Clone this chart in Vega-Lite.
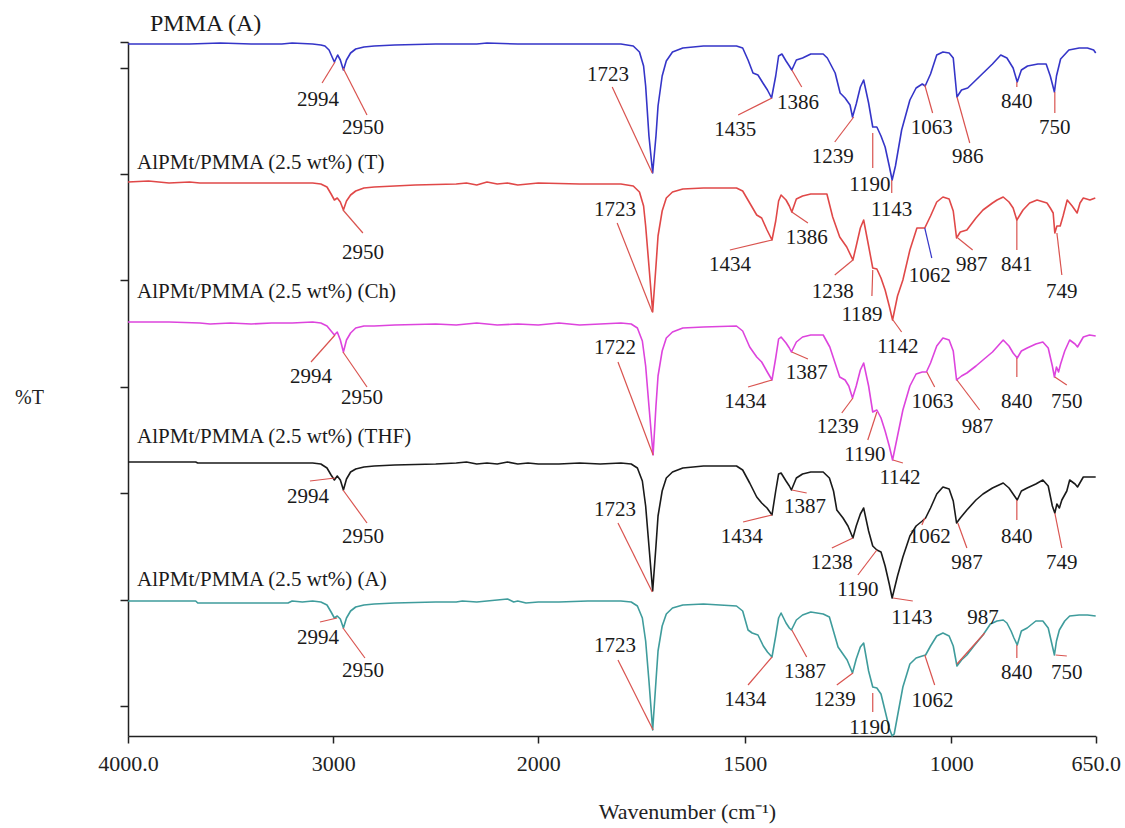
{
  "$schema": "https://vega.github.io/schema/vega-lite/v6.json",
  "autosize": {"type": "none"},
  "padding": {"left": 128, "top": 42, "right": 29, "bottom": 92},
  "width": 968,
  "height": 694,
  "background": "white",
  "config": {"view": {"stroke": null}, "font": "Liberation Serif"},
  "datasets": {
    "spectra": [
      {"s":"PMMA","wn":4000,"T":692},{"s":"PMMA","wn":3850,"T":692},{"s":"PMMA","wn":3700,"T":692},{"s":"PMMA","wn":3550,"T":693},{"s":"PMMA","wn":3400,"T":692},{"s":"PMMA","wn":3250,"T":692},{"s":"PMMA","wn":3200,"T":693},{"s":"PMMA","wn":3100,"T":692},{"s":"PMMA","wn":3060,"T":691},{"s":"PMMA","wn":3040,"T":690},{"s":"PMMA","wn":3020,"T":686},{"s":"PMMA","wn":3005,"T":679},{"s":"PMMA","wn":2994,"T":674},{"s":"PMMA","wn":2978,"T":681},{"s":"PMMA","wn":2965,"T":676},{"s":"PMMA","wn":2950,"T":666},{"s":"PMMA","wn":2935,"T":676},{"s":"PMMA","wn":2915,"T":683},{"s":"PMMA","wn":2890,"T":687},{"s":"PMMA","wn":2850,"T":689},{"s":"PMMA","wn":2800,"T":690},{"s":"PMMA","wn":2700,"T":691},{"s":"PMMA","wn":2500,"T":692},{"s":"PMMA","wn":2300,"T":692},{"s":"PMMA","wn":2250,"T":693},{"s":"PMMA","wn":2100,"T":692},{"s":"PMMA","wn":2000,"T":692},{"s":"PMMA","wn":1900,"T":692},{"s":"PMMA","wn":1800,"T":692},{"s":"PMMA","wn":1770,"T":690},{"s":"PMMA","wn":1755,"T":684},{"s":"PMMA","wn":1745,"T":670},{"s":"PMMA","wn":1740,"T":650},{"s":"PMMA","wn":1732,"T":600},{"s":"PMMA","wn":1723,"T":563},{"s":"PMMA","wn":1715,"T":600},{"s":"PMMA","wn":1710,"T":630},{"s":"PMMA","wn":1700,"T":660},{"s":"PMMA","wn":1690,"T":675},{"s":"PMMA","wn":1675,"T":684},{"s":"PMMA","wn":1650,"T":688},{"s":"PMMA","wn":1600,"T":690},{"s":"PMMA","wn":1550,"T":690},{"s":"PMMA","wn":1520,"T":690},{"s":"PMMA","wn":1505,"T":688},{"s":"PMMA","wn":1492,"T":676},{"s":"PMMA","wn":1480,"T":663},{"s":"PMMA","wn":1468,"T":661},{"s":"PMMA","wn":1456,"T":653},{"s":"PMMA","wn":1445,"T":646},{"s":"PMMA","wn":1435,"T":638},{"s":"PMMA","wn":1425,"T":660},{"s":"PMMA","wn":1418,"T":680},{"s":"PMMA","wn":1410,"T":682},{"s":"PMMA","wn":1400,"T":675},{"s":"PMMA","wn":1392,"T":670},{"s":"PMMA","wn":1386,"T":666},{"s":"PMMA","wn":1375,"T":676},{"s":"PMMA","wn":1360,"T":678},{"s":"PMMA","wn":1340,"T":682},{"s":"PMMA","wn":1310,"T":682},{"s":"PMMA","wn":1300,"T":678},{"s":"PMMA","wn":1281,"T":663},{"s":"PMMA","wn":1269,"T":643},{"s":"PMMA","wn":1257,"T":638},{"s":"PMMA","wn":1245,"T":631},{"s":"PMMA","wn":1239,"T":619},{"s":"PMMA","wn":1230,"T":632},{"s":"PMMA","wn":1220,"T":649},{"s":"PMMA","wn":1212,"T":656},{"s":"PMMA","wn":1200,"T":633},{"s":"PMMA","wn":1190,"T":609},{"s":"PMMA","wn":1180,"T":609},{"s":"PMMA","wn":1170,"T":600},{"s":"PMMA","wn":1160,"T":589},{"s":"PMMA","wn":1150,"T":570},{"s":"PMMA","wn":1143,"T":556},{"s":"PMMA","wn":1135,"T":570},{"s":"PMMA","wn":1120,"T":606},{"s":"PMMA","wn":1100,"T":636},{"s":"PMMA","wn":1085,"T":648},{"s":"PMMA","wn":1070,"T":652},{"s":"PMMA","wn":1063,"T":650},{"s":"PMMA","wn":1050,"T":662},{"s":"PMMA","wn":1035,"T":681},{"s":"PMMA","wn":1020,"T":684},{"s":"PMMA","wn":1005,"T":683},{"s":"PMMA","wn":995,"T":678},{"s":"PMMA","wn":986,"T":639},{"s":"PMMA","wn":975,"T":646},{"s":"PMMA","wn":960,"T":648},{"s":"PMMA","wn":930,"T":660},{"s":"PMMA","wn":900,"T":672},{"s":"PMMA","wn":880,"T":681},{"s":"PMMA","wn":865,"T":678},{"s":"PMMA","wn":850,"T":668},{"s":"PMMA","wn":840,"T":654},{"s":"PMMA","wn":830,"T":666},{"s":"PMMA","wn":815,"T":670},{"s":"PMMA","wn":790,"T":672},{"s":"PMMA","wn":770,"T":672},{"s":"PMMA","wn":760,"T":660},{"s":"PMMA","wn":750,"T":644},{"s":"PMMA","wn":745,"T":660},{"s":"PMMA","wn":735,"T":677},{"s":"PMMA","wn":715,"T":686},{"s":"PMMA","wn":690,"T":688},{"s":"PMMA","wn":670,"T":688},{"s":"PMMA","wn":655,"T":686},{"s":"PMMA","wn":650,"T":683},

      {"s":"T","wn":4000,"T":554},{"s":"T","wn":3900,"T":555},{"s":"T","wn":3800,"T":553},{"s":"T","wn":3700,"T":554},{"s":"T","wn":3650,"T":553},{"s":"T","wn":3400,"T":553},{"s":"T","wn":3100,"T":553},{"s":"T","wn":3060,"T":552},{"s":"T","wn":3030,"T":549},{"s":"T","wn":3010,"T":542},{"s":"T","wn":2994,"T":536},{"s":"T","wn":2980,"T":538},{"s":"T","wn":2965,"T":534},{"s":"T","wn":2950,"T":526},{"s":"T","wn":2935,"T":535},{"s":"T","wn":2915,"T":541},{"s":"T","wn":2890,"T":545},{"s":"T","wn":2850,"T":548},{"s":"T","wn":2800,"T":549},{"s":"T","wn":2700,"T":550},{"s":"T","wn":2600,"T":551},{"s":"T","wn":2400,"T":552},{"s":"T","wn":2350,"T":553},{"s":"T","wn":2300,"T":551},{"s":"T","wn":2250,"T":554},{"s":"T","wn":2200,"T":552},{"s":"T","wn":2150,"T":553},{"s":"T","wn":2100,"T":551},{"s":"T","wn":2050,"T":552},{"s":"T","wn":2000,"T":553},{"s":"T","wn":1900,"T":552},{"s":"T","wn":1800,"T":552},{"s":"T","wn":1770,"T":550},{"s":"T","wn":1755,"T":544},{"s":"T","wn":1745,"T":530},{"s":"T","wn":1740,"T":510},{"s":"T","wn":1732,"T":470},{"s":"T","wn":1723,"T":424},{"s":"T","wn":1715,"T":470},{"s":"T","wn":1710,"T":500},{"s":"T","wn":1700,"T":525},{"s":"T","wn":1690,"T":538},{"s":"T","wn":1675,"T":544},{"s":"T","wn":1650,"T":547},{"s":"T","wn":1600,"T":548},{"s":"T","wn":1520,"T":548},{"s":"T","wn":1505,"T":545},{"s":"T","wn":1488,"T":533},{"s":"T","wn":1471,"T":521},{"s":"T","wn":1459,"T":518},{"s":"T","wn":1446,"T":506},{"s":"T","wn":1434,"T":496},{"s":"T","wn":1425,"T":515},{"s":"T","wn":1418,"T":535},{"s":"T","wn":1412,"T":541},{"s":"T","wn":1400,"T":536},{"s":"T","wn":1392,"T":530},{"s":"T","wn":1386,"T":524},{"s":"T","wn":1375,"T":537},{"s":"T","wn":1360,"T":540},{"s":"T","wn":1340,"T":542},{"s":"T","wn":1301,"T":542},{"s":"T","wn":1287,"T":519},{"s":"T","wn":1270,"T":499},{"s":"T","wn":1253,"T":489},{"s":"T","wn":1238,"T":476},{"s":"T","wn":1230,"T":490},{"s":"T","wn":1220,"T":508},{"s":"T","wn":1212,"T":516},{"s":"T","wn":1200,"T":490},{"s":"T","wn":1190,"T":468},{"s":"T","wn":1180,"T":467},{"s":"T","wn":1170,"T":458},{"s":"T","wn":1160,"T":446},{"s":"T","wn":1150,"T":430},{"s":"T","wn":1142,"T":416},{"s":"T","wn":1130,"T":440},{"s":"T","wn":1117,"T":456},{"s":"T","wn":1100,"T":486},{"s":"T","wn":1083,"T":508},{"s":"T","wn":1064,"T":508},{"s":"T","wn":1050,"T":520},{"s":"T","wn":1035,"T":534},{"s":"T","wn":1020,"T":539},{"s":"T","wn":1005,"T":537},{"s":"T","wn":995,"T":525},{"s":"T","wn":987,"T":498},{"s":"T","wn":978,"T":504},{"s":"T","wn":962,"T":506},{"s":"T","wn":940,"T":518},{"s":"T","wn":923,"T":526},{"s":"T","wn":900,"T":533},{"s":"T","wn":889,"T":536},{"s":"T","wn":874,"T":539},{"s":"T","wn":860,"T":534},{"s":"T","wn":850,"T":528},{"s":"T","wn":841,"T":516},{"s":"T","wn":832,"T":522},{"s":"T","wn":826,"T":526},{"s":"T","wn":810,"T":533},{"s":"T","wn":792,"T":536},{"s":"T","wn":768,"T":533},{"s":"T","wn":760,"T":528},{"s":"T","wn":753,"T":523},{"s":"T","wn":749,"T":503},{"s":"T","wn":744,"T":510},{"s":"T","wn":736,"T":510},{"s":"T","wn":729,"T":520},{"s":"T","wn":719,"T":536},{"s":"T","wn":707,"T":530},{"s":"T","wn":695,"T":523},{"s":"T","wn":688,"T":533},{"s":"T","wn":680,"T":538},{"s":"T","wn":664,"T":536},{"s":"T","wn":651,"T":538},

      {"s":"Ch","wn":4000,"T":414},{"s":"Ch","wn":3800,"T":414},{"s":"Ch","wn":3650,"T":413},{"s":"Ch","wn":3600,"T":412},{"s":"Ch","wn":3500,"T":413},{"s":"Ch","wn":3400,"T":412},{"s":"Ch","wn":3300,"T":413},{"s":"Ch","wn":3200,"T":413},{"s":"Ch","wn":3100,"T":414},{"s":"Ch","wn":3060,"T":413},{"s":"Ch","wn":3030,"T":410},{"s":"Ch","wn":3010,"T":405},{"s":"Ch","wn":2994,"T":401},{"s":"Ch","wn":2980,"T":404},{"s":"Ch","wn":2965,"T":396},{"s":"Ch","wn":2950,"T":384},{"s":"Ch","wn":2935,"T":396},{"s":"Ch","wn":2915,"T":403},{"s":"Ch","wn":2890,"T":408},{"s":"Ch","wn":2850,"T":410},{"s":"Ch","wn":2800,"T":410},{"s":"Ch","wn":2700,"T":411},{"s":"Ch","wn":2500,"T":412},{"s":"Ch","wn":2400,"T":411},{"s":"Ch","wn":2300,"T":413},{"s":"Ch","wn":2200,"T":411},{"s":"Ch","wn":2100,"T":412},{"s":"Ch","wn":2000,"T":411},{"s":"Ch","wn":1950,"T":413},{"s":"Ch","wn":1900,"T":411},{"s":"Ch","wn":1850,"T":412},{"s":"Ch","wn":1800,"T":413},{"s":"Ch","wn":1775,"T":412},{"s":"Ch","wn":1760,"T":408},{"s":"Ch","wn":1748,"T":395},{"s":"Ch","wn":1740,"T":370},{"s":"Ch","wn":1732,"T":330},{"s":"Ch","wn":1722,"T":281},{"s":"Ch","wn":1715,"T":330},{"s":"Ch","wn":1710,"T":360},{"s":"Ch","wn":1700,"T":385},{"s":"Ch","wn":1690,"T":398},{"s":"Ch","wn":1675,"T":404},{"s":"Ch","wn":1650,"T":408},{"s":"Ch","wn":1600,"T":409},{"s":"Ch","wn":1520,"T":410},{"s":"Ch","wn":1505,"T":405},{"s":"Ch","wn":1488,"T":389},{"s":"Ch","wn":1471,"T":379},{"s":"Ch","wn":1459,"T":374},{"s":"Ch","wn":1444,"T":363},{"s":"Ch","wn":1434,"T":356},{"s":"Ch","wn":1425,"T":378},{"s":"Ch","wn":1418,"T":397},{"s":"Ch","wn":1412,"T":399},{"s":"Ch","wn":1400,"T":393},{"s":"Ch","wn":1392,"T":388},{"s":"Ch","wn":1387,"T":384},{"s":"Ch","wn":1375,"T":394},{"s":"Ch","wn":1360,"T":399},{"s":"Ch","wn":1340,"T":401},{"s":"Ch","wn":1310,"T":401},{"s":"Ch","wn":1294,"T":389},{"s":"Ch","wn":1270,"T":359},{"s":"Ch","wn":1257,"T":356},{"s":"Ch","wn":1248,"T":350},{"s":"Ch","wn":1239,"T":338},{"s":"Ch","wn":1230,"T":350},{"s":"Ch","wn":1220,"T":366},{"s":"Ch","wn":1212,"T":373},{"s":"Ch","wn":1200,"T":350},{"s":"Ch","wn":1190,"T":324},{"s":"Ch","wn":1180,"T":326},{"s":"Ch","wn":1170,"T":318},{"s":"Ch","wn":1160,"T":305},{"s":"Ch","wn":1150,"T":290},{"s":"Ch","wn":1142,"T":276},{"s":"Ch","wn":1130,"T":300},{"s":"Ch","wn":1117,"T":326},{"s":"Ch","wn":1100,"T":350},{"s":"Ch","wn":1085,"T":362},{"s":"Ch","wn":1070,"T":364},{"s":"Ch","wn":1060,"T":364},{"s":"Ch","wn":1050,"T":373},{"s":"Ch","wn":1035,"T":390},{"s":"Ch","wn":1020,"T":398},{"s":"Ch","wn":1005,"T":396},{"s":"Ch","wn":995,"T":385},{"s":"Ch","wn":987,"T":356},{"s":"Ch","wn":975,"T":360},{"s":"Ch","wn":962,"T":363},{"s":"Ch","wn":940,"T":370},{"s":"Ch","wn":923,"T":376},{"s":"Ch","wn":900,"T":384},{"s":"Ch","wn":874,"T":396},{"s":"Ch","wn":860,"T":390},{"s":"Ch","wn":850,"T":383},{"s":"Ch","wn":840,"T":378},{"s":"Ch","wn":830,"T":385},{"s":"Ch","wn":816,"T":388},{"s":"Ch","wn":795,"T":392},{"s":"Ch","wn":778,"T":394},{"s":"Ch","wn":765,"T":388},{"s":"Ch","wn":755,"T":370},{"s":"Ch","wn":750,"T":359},{"s":"Ch","wn":745,"T":369},{"s":"Ch","wn":740,"T":364},{"s":"Ch","wn":735,"T":372},{"s":"Ch","wn":725,"T":385},{"s":"Ch","wn":713,"T":396},{"s":"Ch","wn":700,"T":392},{"s":"Ch","wn":694,"T":389},{"s":"Ch","wn":680,"T":399},{"s":"Ch","wn":665,"T":401},{"s":"Ch","wn":650,"T":400},

      {"s":"THF","wn":4000,"T":274},{"s":"THF","wn":3670,"T":274},{"s":"THF","wn":3660,"T":273},{"s":"THF","wn":3100,"T":273},{"s":"THF","wn":3060,"T":272},{"s":"THF","wn":3030,"T":268},{"s":"THF","wn":3010,"T":261},{"s":"THF","wn":2994,"T":256},{"s":"THF","wn":2980,"T":260},{"s":"THF","wn":2965,"T":256},{"s":"THF","wn":2950,"T":246},{"s":"THF","wn":2935,"T":257},{"s":"THF","wn":2915,"T":264},{"s":"THF","wn":2890,"T":267},{"s":"THF","wn":2850,"T":269},{"s":"THF","wn":2800,"T":270},{"s":"THF","wn":2700,"T":271},{"s":"THF","wn":2500,"T":272},{"s":"THF","wn":2400,"T":273},{"s":"THF","wn":2350,"T":274},{"s":"THF","wn":2300,"T":272},{"s":"THF","wn":2250,"T":273},{"s":"THF","wn":2200,"T":272},{"s":"THF","wn":2150,"T":274},{"s":"THF","wn":2100,"T":272},{"s":"THF","wn":2050,"T":273},{"s":"THF","wn":2000,"T":272},{"s":"THF","wn":1950,"T":272},{"s":"THF","wn":1900,"T":273},{"s":"THF","wn":1850,"T":272},{"s":"THF","wn":1800,"T":273},{"s":"THF","wn":1775,"T":272},{"s":"THF","wn":1760,"T":268},{"s":"THF","wn":1748,"T":255},{"s":"THF","wn":1740,"T":230},{"s":"THF","wn":1732,"T":190},{"s":"THF","wn":1723,"T":145},{"s":"THF","wn":1715,"T":190},{"s":"THF","wn":1710,"T":220},{"s":"THF","wn":1700,"T":245},{"s":"THF","wn":1690,"T":258},{"s":"THF","wn":1675,"T":264},{"s":"THF","wn":1650,"T":268},{"s":"THF","wn":1600,"T":270},{"s":"THF","wn":1520,"T":270},{"s":"THF","wn":1505,"T":266},{"s":"THF","wn":1488,"T":253},{"s":"THF","wn":1471,"T":239},{"s":"THF","wn":1459,"T":233},{"s":"THF","wn":1446,"T":228},{"s":"THF","wn":1434,"T":221},{"s":"THF","wn":1425,"T":245},{"s":"THF","wn":1418,"T":262},{"s":"THF","wn":1412,"T":263},{"s":"THF","wn":1400,"T":255},{"s":"THF","wn":1392,"T":250},{"s":"THF","wn":1387,"T":246},{"s":"THF","wn":1375,"T":258},{"s":"THF","wn":1360,"T":262},{"s":"THF","wn":1340,"T":264},{"s":"THF","wn":1310,"T":264},{"s":"THF","wn":1295,"T":258},{"s":"THF","wn":1285,"T":245},{"s":"THF","wn":1277,"T":226},{"s":"THF","wn":1262,"T":218},{"s":"THF","wn":1250,"T":210},{"s":"THF","wn":1238,"T":198},{"s":"THF","wn":1230,"T":210},{"s":"THF","wn":1220,"T":222},{"s":"THF","wn":1212,"T":228},{"s":"THF","wn":1200,"T":205},{"s":"THF","wn":1190,"T":190},{"s":"THF","wn":1180,"T":186},{"s":"THF","wn":1170,"T":184},{"s":"THF","wn":1160,"T":170},{"s":"THF","wn":1150,"T":152},{"s":"THF","wn":1143,"T":138},{"s":"THF","wn":1130,"T":160},{"s":"THF","wn":1117,"T":179},{"s":"THF","wn":1100,"T":200},{"s":"THF","wn":1085,"T":210},{"s":"THF","wn":1070,"T":215},{"s":"THF","wn":1062,"T":218},{"s":"THF","wn":1050,"T":228},{"s":"THF","wn":1035,"T":242},{"s":"THF","wn":1020,"T":249},{"s":"THF","wn":1005,"T":247},{"s":"THF","wn":995,"T":235},{"s":"THF","wn":987,"T":213},{"s":"THF","wn":978,"T":218},{"s":"THF","wn":962,"T":226},{"s":"THF","wn":940,"T":236},{"s":"THF","wn":923,"T":242},{"s":"THF","wn":900,"T":248},{"s":"THF","wn":874,"T":253},{"s":"THF","wn":860,"T":248},{"s":"THF","wn":850,"T":242},{"s":"THF","wn":840,"T":236},{"s":"THF","wn":830,"T":245},{"s":"THF","wn":816,"T":248},{"s":"THF","wn":795,"T":252},{"s":"THF","wn":778,"T":256},{"s":"THF","wn":765,"T":250},{"s":"THF","wn":755,"T":230},{"s":"THF","wn":749,"T":223},{"s":"THF","wn":744,"T":232},{"s":"THF","wn":738,"T":228},{"s":"THF","wn":732,"T":236},{"s":"THF","wn":720,"T":245},{"s":"THF","wn":713,"T":256},{"s":"THF","wn":700,"T":252},{"s":"THF","wn":694,"T":249},{"s":"THF","wn":680,"T":259},{"s":"THF","wn":665,"T":259},{"s":"THF","wn":650,"T":259},

      {"s":"A","wn":4000,"T":135},{"s":"A","wn":3670,"T":135},{"s":"A","wn":3660,"T":133},{"s":"A","wn":3220,"T":133},{"s":"A","wn":3200,"T":135},{"s":"A","wn":3150,"T":134},{"s":"A","wn":3100,"T":135},{"s":"A","wn":3060,"T":134},{"s":"A","wn":3030,"T":131},{"s":"A","wn":3010,"T":124},{"s":"A","wn":2994,"T":118},{"s":"A","wn":2980,"T":120},{"s":"A","wn":2965,"T":117},{"s":"A","wn":2950,"T":108},{"s":"A","wn":2935,"T":118},{"s":"A","wn":2915,"T":125},{"s":"A","wn":2890,"T":129},{"s":"A","wn":2850,"T":131},{"s":"A","wn":2800,"T":132},{"s":"A","wn":2700,"T":133},{"s":"A","wn":2500,"T":134},{"s":"A","wn":2400,"T":134},{"s":"A","wn":2370,"T":135},{"s":"A","wn":2300,"T":134},{"s":"A","wn":2150,"T":137},{"s":"A","wn":2120,"T":134},{"s":"A","wn":2100,"T":135},{"s":"A","wn":2060,"T":133},{"s":"A","wn":2000,"T":134},{"s":"A","wn":1950,"T":134},{"s":"A","wn":1880,"T":135},{"s":"A","wn":1800,"T":135},{"s":"A","wn":1775,"T":134},{"s":"A","wn":1760,"T":130},{"s":"A","wn":1748,"T":118},{"s":"A","wn":1740,"T":95},{"s":"A","wn":1732,"T":55},{"s":"A","wn":1723,"T":6},{"s":"A","wn":1715,"T":55},{"s":"A","wn":1710,"T":85},{"s":"A","wn":1700,"T":110},{"s":"A","wn":1690,"T":122},{"s":"A","wn":1675,"T":128},{"s":"A","wn":1650,"T":131},{"s":"A","wn":1600,"T":132},{"s":"A","wn":1520,"T":130},{"s":"A","wn":1505,"T":125},{"s":"A","wn":1492,"T":106},{"s":"A","wn":1482,"T":103},{"s":"A","wn":1468,"T":101},{"s":"A","wn":1455,"T":90},{"s":"A","wn":1445,"T":84},{"s":"A","wn":1434,"T":79},{"s":"A","wn":1425,"T":100},{"s":"A","wn":1418,"T":118},{"s":"A","wn":1412,"T":123},{"s":"A","wn":1400,"T":113},{"s":"A","wn":1392,"T":108},{"s":"A","wn":1387,"T":106},{"s":"A","wn":1375,"T":116},{"s":"A","wn":1360,"T":121},{"s":"A","wn":1340,"T":124},{"s":"A","wn":1310,"T":122},{"s":"A","wn":1295,"T":119},{"s":"A","wn":1274,"T":89},{"s":"A","wn":1252,"T":76},{"s":"A","wn":1239,"T":63},{"s":"A","wn":1230,"T":77},{"s":"A","wn":1220,"T":89},{"s":"A","wn":1212,"T":93},{"s":"A","wn":1200,"T":65},{"s":"A","wn":1190,"T":49},{"s":"A","wn":1180,"T":48},{"s":"A","wn":1170,"T":42},{"s":"A","wn":1160,"T":25},{"s":"A","wn":1150,"T":8},{"s":"A","wn":1143,"T":0},{"s":"A","wn":1138,"T":2},{"s":"A","wn":1130,"T":20},{"s":"A","wn":1117,"T":49},{"s":"A","wn":1100,"T":72},{"s":"A","wn":1085,"T":78},{"s":"A","wn":1070,"T":80},{"s":"A","wn":1062,"T":81},{"s":"A","wn":1050,"T":90},{"s":"A","wn":1035,"T":100},{"s":"A","wn":1020,"T":103},{"s":"A","wn":1005,"T":100},{"s":"A","wn":995,"T":90},{"s":"A","wn":986,"T":70},{"s":"A","wn":975,"T":76},{"s":"A","wn":962,"T":81},{"s":"A","wn":945,"T":90},{"s":"A","wn":923,"T":101},{"s":"A","wn":905,"T":112},{"s":"A","wn":889,"T":115},{"s":"A","wn":874,"T":116},{"s":"A","wn":865,"T":113},{"s":"A","wn":855,"T":105},{"s":"A","wn":848,"T":98},{"s":"A","wn":840,"T":91},{"s":"A","wn":830,"T":105},{"s":"A","wn":816,"T":108},{"s":"A","wn":795,"T":115},{"s":"A","wn":778,"T":115},{"s":"A","wn":765,"T":108},{"s":"A","wn":755,"T":90},{"s":"A","wn":750,"T":81},{"s":"A","wn":745,"T":95},{"s":"A","wn":738,"T":106},{"s":"A","wn":725,"T":115},{"s":"A","wn":713,"T":120},{"s":"A","wn":690,"T":121},{"s":"A","wn":670,"T":121},{"s":"A","wn":650,"T":120}
    ],
    "leaders": [
      {"wn":2991,"T":674,"wn2":3054,"T2":653,"c":"#d9534f"},{"wn":2952,"T":668,"wn2":2835,"T2":621,"c":"#d9534f"},{"wn":1821,"T":649,"wn2":1724,"T2":563,"c":"#d9534f"},{"wn":1516,"T":621,"wn2":1434,"T2":638,"c":"#d9534f"},{"wn":1386,"T":666,"wn2":1362,"T2":649,"c":"#d9534f"},{"wn":1236,"T":619,"wn2":1282,"T2":594,"c":"#d9534f"},{"wn":1190,"T":603,"wn2":1190,"T2":568,"c":"#d9534f"},{"wn":1144,"T":556,"wn2":1144,"T2":543,"c":"#d9534f"},{"wn":1064,"T":651,"wn2":1045,"T2":623,"c":"#d9534f"},{"wn":986,"T":639,"wn2":955,"T2":593,"c":"#d9534f"},{"wn":841,"T":654,"wn2":841,"T2":649,"c":"#d9534f"},{"wn":749,"T":644,"wn2":749,"T2":623,"c":"#d9534f"},
      {"wn":2952,"T":526,"wn2":2855,"T2":503,"c":"#d9534f"},{"wn":1809,"T":513,"wn2":1724,"T2":424,"c":"#d9534f"},{"wn":1536,"T":486,"wn2":1434,"T2":496,"c":"#d9534f"},{"wn":1386,"T":524,"wn2":1347,"T2":513,"c":"#d9534f"},{"wn":1282,"T":461,"wn2":1238,"T2":476,"c":"#d9534f"},{"wn":1190,"T":466,"wn2":1192,"T2":440,"c":"#d9534f"},{"wn":1141,"T":416,"wn2":1120,"T2":404,"c":"#d9534f"},{"wn":1064,"T":508,"wn2":1047,"T2":478,"c":"#3535c8"},{"wn":984,"T":498,"wn2":948,"T2":486,"c":"#d9534f"},{"wn":841,"T":516,"wn2":841,"T2":486,"c":"#d9534f"},{"wn":744,"T":503,"wn2":732,"T2":461,"c":"#d9534f"},
      {"wn":2991,"T":401,"wn2":3108,"T2":374,"c":"#d9534f"},{"wn":2952,"T":384,"wn2":2835,"T2":349,"c":"#d9534f"},{"wn":1807,"T":374,"wn2":1722,"T2":281,"c":"#d9534f"},{"wn":1492,"T":349,"wn2":1434,"T2":356,"c":"#d9534f"},{"wn":1386,"T":384,"wn2":1347,"T2":377,"c":"#d9534f"},{"wn":1238,"T":338,"wn2":1265,"T2":323,"c":"#d9534f"},{"wn":1180,"T":324,"wn2":1202,"T2":296,"c":"#d9534f"},{"wn":1141,"T":276,"wn2":1117,"T2":273,"c":"#d9534f"},{"wn":1059,"T":364,"wn2":1040,"T2":349,"c":"#d9534f"},{"wn":986,"T":356,"wn2":931,"T2":326,"c":"#d9534f"},{"wn":841,"T":378,"wn2":841,"T2":359,"c":"#d9534f"},{"wn":749,"T":359,"wn2":720,"T2":351,"c":"#d9534f"},
      {"wn":3113,"T":255,"wn2":2991,"T2":258,"c":"#d9534f"},{"wn":2952,"T":246,"wn2":2835,"T2":213,"c":"#d9534f"},{"wn":1807,"T":213,"wn2":1724,"T2":144,"c":"#d9534f"},{"wn":1504,"T":214,"wn2":1434,"T2":221,"c":"#d9534f"},{"wn":1386,"T":246,"wn2":1350,"T2":243,"c":"#d9534f"},{"wn":1238,"T":198,"wn2":1289,"T2":188,"c":"#d9534f"},{"wn":1180,"T":186,"wn2":1226,"T2":161,"c":"#d9534f"},{"wn":1141,"T":138,"wn2":1093,"T2":135,"c":"#d9534f"},{"wn":1064,"T":218,"wn2":1071,"T2":211,"c":"#d9534f"},{"wn":984,"T":213,"wn2":962,"T2":188,"c":"#d9534f"},{"wn":841,"T":236,"wn2":841,"T2":216,"c":"#d9534f"},{"wn":749,"T":223,"wn2":732,"T2":188,"c":"#d9534f"},
      {"wn":3064,"T":114,"wn2":2981,"T2":118,"c":"#d9534f"},{"wn":2952,"T":108,"wn2":2845,"T2":78,"c":"#d9534f"},{"wn":1807,"T":76,"wn2":1722,"T2":6,"c":"#d9534f"},{"wn":1492,"T":51,"wn2":1434,"T2":79,"c":"#d9534f"},{"wn":1386,"T":106,"wn2":1350,"T2":79,"c":"#d9534f"},{"wn":1238,"T":63,"wn2":1277,"T2":51,"c":"#d9534f"},{"wn":1190,"T":43,"wn2":1190,"T2":24,"c":"#d9534f"},{"wn":1064,"T":81,"wn2":1040,"T2":51,"c":"#d9534f"},{"wn":986,"T":72,"wn2":919,"T2":103,"c":"#d9534f"},{"wn":841,"T":91,"wn2":841,"T2":78,"c":"#d9534f"},{"wn":747,"T":81,"wn2":720,"T2":80,"c":"#d9534f"}
    ],
    "labels": [
      {"wn":3074,"T":636,"t":"2994"},{"wn":2855,"T":608,"t":"2950"},{"wn":1831,"T":661,"t":"1723"},{"wn":1523,"T":606,"t":"1435"},{"wn":1371,"T":633,"t":"1386"},{"wn":1287,"T":579,"t":"1239"},{"wn":1197,"T":551,"t":"1190"},{"wn":1144,"T":526,"t":"1143"},{"wn":1047,"T":608,"t":"1063"},{"wn":960,"T":579,"t":"986"},{"wn":841,"T":634,"t":"840"},{"wn":749,"T":608,"t":"750"},
      {"wn":2855,"T":483,"t":"2950"},{"wn":1814,"T":526,"t":"1723"},{"wn":1536,"T":471,"t":"1434"},{"wn":1350,"T":498,"t":"1386"},{"wn":1287,"T":444,"t":"1238"},{"wn":1216,"T":421,"t":"1189"},{"wn":1129,"T":389,"t":"1142"},{"wn":1052,"T":460,"t":"1062"},{"wn":950,"T":471,"t":"987"},{"wn":841,"T":471,"t":"841"},{"wn":732,"T":444,"t":"749"},
      {"wn":3108,"T":359,"t":"2994"},{"wn":2859,"T":338,"t":"2950"},{"wn":1814,"T":388,"t":"1722"},{"wn":1499,"T":334,"t":"1434"},{"wn":1350,"T":363,"t":"1387"},{"wn":1275,"T":309,"t":"1239"},{"wn":1209,"T":281,"t":"1190"},{"wn":1124,"T":258,"t":"1142"},{"wn":1045,"T":334,"t":"1063"},{"wn":936,"T":309,"t":"987"},{"wn":841,"T":334,"t":"840"},{"wn":720,"T":334,"t":"750"},
      {"wn":3123,"T":239,"t":"2994"},{"wn":2855,"T":199,"t":"2950"},{"wn":1814,"T":226,"t":"1723"},{"wn":1507,"T":199,"t":"1434"},{"wn":1354,"T":229,"t":"1387"},{"wn":1289,"T":173,"t":"1238"},{"wn":1226,"T":146,"t":"1190"},{"wn":1095,"T":118,"t":"1143"},{"wn":1052,"T":199,"t":"1062"},{"wn":962,"T":173,"t":"987"},{"wn":841,"T":199,"t":"840"},{"wn":732,"T":173,"t":"749"},
      {"wn":3074,"T":98,"t":"2994"},{"wn":2855,"T":65,"t":"2950"},{"wn":1814,"T":90,"t":"1723"},{"wn":1499,"T":36,"t":"1434"},{"wn":1354,"T":64,"t":"1387"},{"wn":1282,"T":36,"t":"1239"},{"wn":1197,"T":8,"t":"1190"},{"wn":1045,"T":35,"t":"1062"},{"wn":923,"T":118,"t":"987"},{"wn":841,"T":63,"t":"840"},{"wn":720,"T":63,"t":"750"}
    ],
    "titles": [
      {"wn":3893,"T":712,"t":"PMMA (A)","f":24},
      {"wn":3956,"T":573,"t":"AlPMt/PMMA (2.5 wt%) (T)","f":21},
      {"wn":3956,"T":444,"t":"AlPMt/PMMA (2.5 wt%) (Ch)","f":21},
      {"wn":3956,"T":299,"t":"AlPMt/PMMA (2.5 wt%) (THF)","f":21},
      {"wn":3956,"T":156,"t":"AlPMt/PMMA (2.5 wt%) (A)","f":21}
    ]
  },
  "encoding": {
    "x": {
      "field": "wn", "type": "quantitative",
      "scale": {"domain": [4000, 2000, 650], "range": [0, 410.3, 967.7], "zero": false, "nice": false},
      "axis": {
        "values": [4000, 3000, 2000, 1500, 1000, 650],
        "labelExpr": "datum.value == 4000 ? '4000.0' : datum.value == 650 ? '650.0' : format(datum.value, 'd')",
        "labelFlush": false, "labelOverlap": false,
        "grid": false, "domainColor": "#222", "domainWidth": 1.5, "tickColor": "#222", "tickWidth": 1.5, "tickSize": 7,
        "labelFont": "Liberation Serif", "labelFontSize": 22, "labelColor": "#222", "labelPadding": 10,
        "title": "Wavenumber (cm⁻¹)", "titleFont": "Liberation Serif", "titleFontSize": 22, "titleFontWeight": "normal", "titleColor": "#222",
        "titleX": 559, "titleY": 75, "titleAlign": "center", "titleBaseline": "middle"
      }
    },
    "y": {
      "field": "T", "type": "quantitative",
      "scale": {"domain": [0, 694], "nice": false, "zero": false},
      "axis": {
        "values": [30, 136, 243, 349, 456, 562, 668, 694],
        "labels": false, "grid": false, "domainColor": "#222", "domainWidth": 1.5, "tickColor": "#222", "tickWidth": 1.5, "tickSize": 8,
        "title": "%T", "titleFont": "Liberation Serif", "titleFontSize": 20, "titleFontWeight": "normal", "titleColor": "#222",
        "titleAngle": 0, "titleX": -99, "titleY": 355, "titleAlign": "center", "titleBaseline": "middle"
      }
    }
  },
  "layer": [
    {
      "data": {"name": "spectra"},
      "mark": {"type": "line", "strokeWidth": 1.6, "interpolate": "linear", "strokeJoin": "round"},
      "encoding": {
        "color": {"field": "s", "type": "nominal", "legend": null,
          "scale": {"domain": ["PMMA", "T", "Ch", "THF", "A"], "range": ["#3535c8", "#e04848", "#dd44dd", "#1a1a1a", "#3f9c9c"]}}
      }
    },
    {
      "data": {"name": "leaders"},
      "mark": {"type": "rule", "strokeWidth": 1.2},
      "encoding": {
        "x2": {"field": "wn2"},
        "y2": {"field": "T2"},
        "color": {"field": "c", "type": "nominal", "scale": null}
      }
    },
    {
      "data": {"name": "labels"},
      "mark": {"type": "text", "font": "Liberation Serif", "fontSize": 21, "color": "#1a1a1a", "align": "center", "baseline": "middle"},
      "encoding": {"text": {"field": "t"}}
    },
    {
      "data": {"name": "titles"},
      "mark": {"type": "text", "font": "Liberation Serif", "color": "#1a1a1a", "align": "left", "baseline": "middle"},
      "encoding": {"text": {"field": "t"}, "size": {"field": "f", "type": "quantitative", "scale": null}}
    }
  ]
}
